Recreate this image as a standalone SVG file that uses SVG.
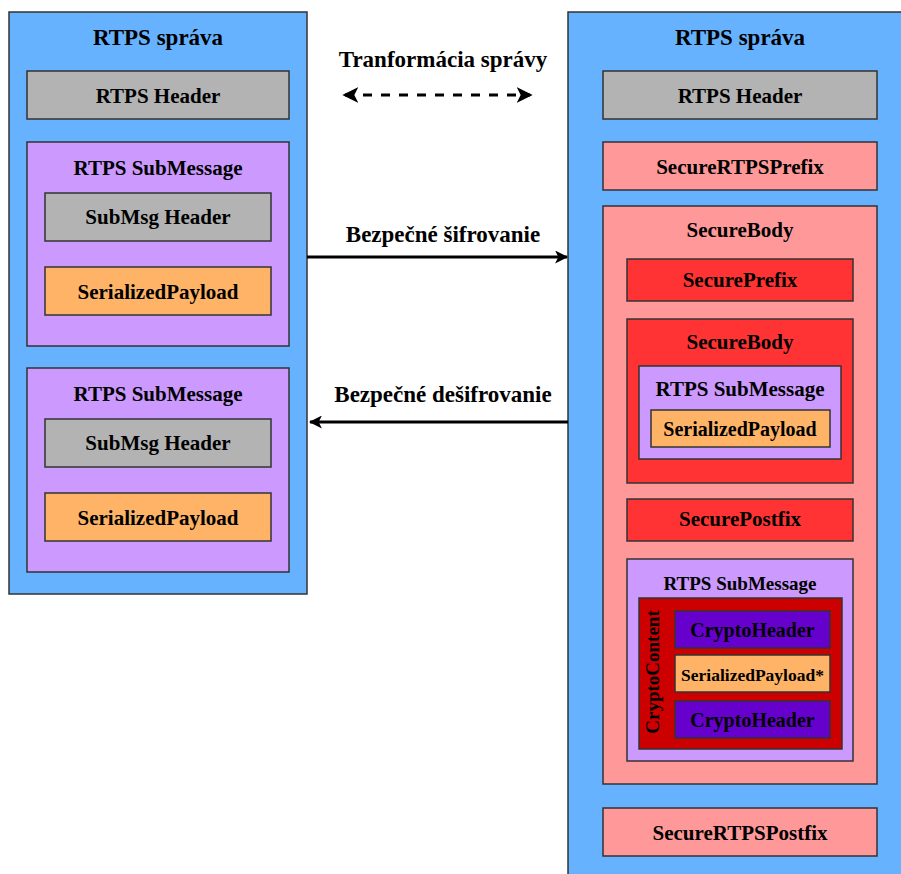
<svg xmlns="http://www.w3.org/2000/svg" width="901" height="874" viewBox="0 0 901 874">
  <defs>
    <style>
      .box { stroke: #333333; stroke-width: 1.5; }
      .msg { fill: #66b2ff; }
      .hdr { fill: #b3b3b3; }
      .sub { fill: #cc99ff; }
      .pay { fill: #ffb366; }
      .sec { fill: #ff9999; }
      .red { fill: #ff3333; }
      .cc { fill: #cc0000; }
      .ch { fill: #6600cc; }
      text { font-family: "Liberation Serif", "Times New Roman", serif; font-weight: bold; fill: #000000; text-anchor: middle; }
      .t23 { font-size: 23px; }
      .t21 { font-size: 21px; }
      .t20 { font-size: 20px; }
      .t19 { font-size: 19px; }
      .t18 { font-size: 17.5px; }
      .wire { stroke: #000000; stroke-width: 3; fill: none; }
    </style>
    <marker id="head" viewBox="0 0 12 12" refX="11" refY="6" markerWidth="13" markerHeight="13" markerUnits="userSpaceOnUse" orient="auto-start-reverse">
      <path d="M0,0 L12,6 L0,12 L3,6 Z" fill="#000000"/>
    </marker>
    <marker id="head-big" viewBox="0 0 12 12" refX="10" refY="6" markerWidth="16" markerHeight="16" markerUnits="userSpaceOnUse" orient="auto-start-reverse">
      <path d="M0,0 L12,6 L0,12 L3,6 Z" fill="#000000"/>
    </marker>
  </defs>

  <!-- left: plain RTPS message -->
  <g id="left-message">
    <rect class="box msg" x="9" y="12" width="298" height="582"/>
    <text class="t23" x="158" y="45">RTPS správa</text>
  </g>
  <g id="left-header">
    <rect class="box hdr" x="27" y="71" width="262" height="48"/>
    <text class="t21" x="158" y="103">RTPS Header</text>
  </g>
  <g id="left-sub1">
    <rect class="box sub" x="27" y="142" width="262" height="204"/>
    <text class="t21" x="158" y="175">RTPS SubMessage</text>
  </g>
  <g id="left-sub1-header">
    <rect class="box hdr" x="45" y="193" width="226" height="48"/>
    <text class="t21" x="158" y="224">SubMsg Header</text>
  </g>
  <g id="left-sub1-payload">
    <rect class="box pay" x="45" y="267" width="226" height="48"/>
    <text class="t21" x="158" y="299">SerializedPayload</text>
  </g>
  <g id="left-sub2">
    <rect class="box sub" x="27" y="368" width="262" height="204"/>
    <text class="t21" x="158" y="401">RTPS SubMessage</text>
  </g>
  <g id="left-sub2-header">
    <rect class="box hdr" x="45" y="419" width="226" height="48"/>
    <text class="t21" x="158" y="450">SubMsg Header</text>
  </g>
  <g id="left-sub2-payload">
    <rect class="box pay" x="45" y="493" width="226" height="48"/>
    <text class="t21" x="158" y="525">SerializedPayload</text>
  </g>

  <!-- right: secured RTPS message -->
  <g id="right-message">
    <rect class="box msg" x="568" y="12" width="340" height="870"/>
    <text class="t23" x="740" y="45">RTPS správa</text>
  </g>
  <g id="right-header">
    <rect class="box hdr" x="603" y="71" width="274" height="48"/>
    <text class="t21" x="740" y="103">RTPS Header</text>
  </g>
  <g id="secure-rtps-prefix">
    <rect class="box sec" x="603" y="142" width="274" height="48"/>
    <text class="t21" x="740" y="174">SecureRTPSPrefix</text>
  </g>
  <g id="secure-body-outer">
    <rect class="box sec" x="603" y="206" width="274" height="578"/>
    <text class="t21" x="740" y="237">SecureBody</text>
  </g>
  <g id="secure-prefix">
    <rect class="box red" x="627" y="259" width="226" height="42"/>
    <text class="t21" x="740" y="287">SecurePrefix</text>
  </g>
  <g id="secure-body-inner">
    <rect class="box red" x="627" y="319" width="226" height="164"/>
    <text class="t21" x="740" y="349">SecureBody</text>
  </g>
  <g id="inner-sub">
    <rect class="box sub" x="639" y="366" width="202" height="93"/>
    <text class="t21" x="740" y="396">RTPS SubMessage</text>
  </g>
  <g id="inner-payload">
    <rect class="box pay" x="651" y="410" width="179" height="37"/>
    <text class="t20" x="740" y="436">SerializedPayload</text>
  </g>
  <g id="secure-postfix">
    <rect class="box red" x="627" y="499" width="226" height="42"/>
    <text class="t21" x="740" y="526">SecurePostfix</text>
  </g>
  <g id="crypto-sub">
    <rect class="box sub" x="627" y="559" width="226" height="202"/>
    <text class="t19" x="740" y="590">RTPS SubMessage</text>
  </g>
  <g id="crypto-content">
    <rect class="box cc" x="639" y="598" width="203" height="151"/>
    <text class="t19" transform="translate(659,672) rotate(-90)" x="0" y="0">CryptoContent</text>
  </g>
  <g id="crypto-header-1">
    <rect class="box ch" x="675" y="611" width="155" height="37"/>
    <text class="t20" x="752.5" y="637">CryptoHeader</text>
  </g>
  <g id="crypto-payload">
    <rect class="box pay" x="675" y="655" width="155" height="37"/>
    <text class="t18" x="752.5" y="681">SerializedPayload*</text>
  </g>
  <g id="crypto-header-2">
    <rect class="box ch" x="675" y="701" width="155" height="37"/>
    <text class="t20" x="752.5" y="727">CryptoHeader</text>
  </g>
  <g id="secure-rtps-postfix">
    <rect class="box sec" x="603" y="808" width="274" height="48"/>
    <text class="t21" x="740" y="840">SecureRTPSPostfix</text>
  </g>

  <!-- connectors between the two messages -->
  <g id="connectors">
    <path class="wire" d="M345,95 L530,95" stroke-dasharray="9,9" marker-start="url(#head-big)" marker-end="url(#head-big)"/>
    <text class="t23" x="443" y="67">Tranformácia správy</text>
    <path class="wire" d="M307,257 L567,257" marker-end="url(#head)"/>
    <text class="t23" x="443" y="242">Bezpečné šifrovanie</text>
    <path class="wire" d="M568,422 L310,422" marker-end="url(#head)"/>
    <text class="t23" x="443" y="402">Bezpečné dešifrovanie</text>
  </g>
</svg>
